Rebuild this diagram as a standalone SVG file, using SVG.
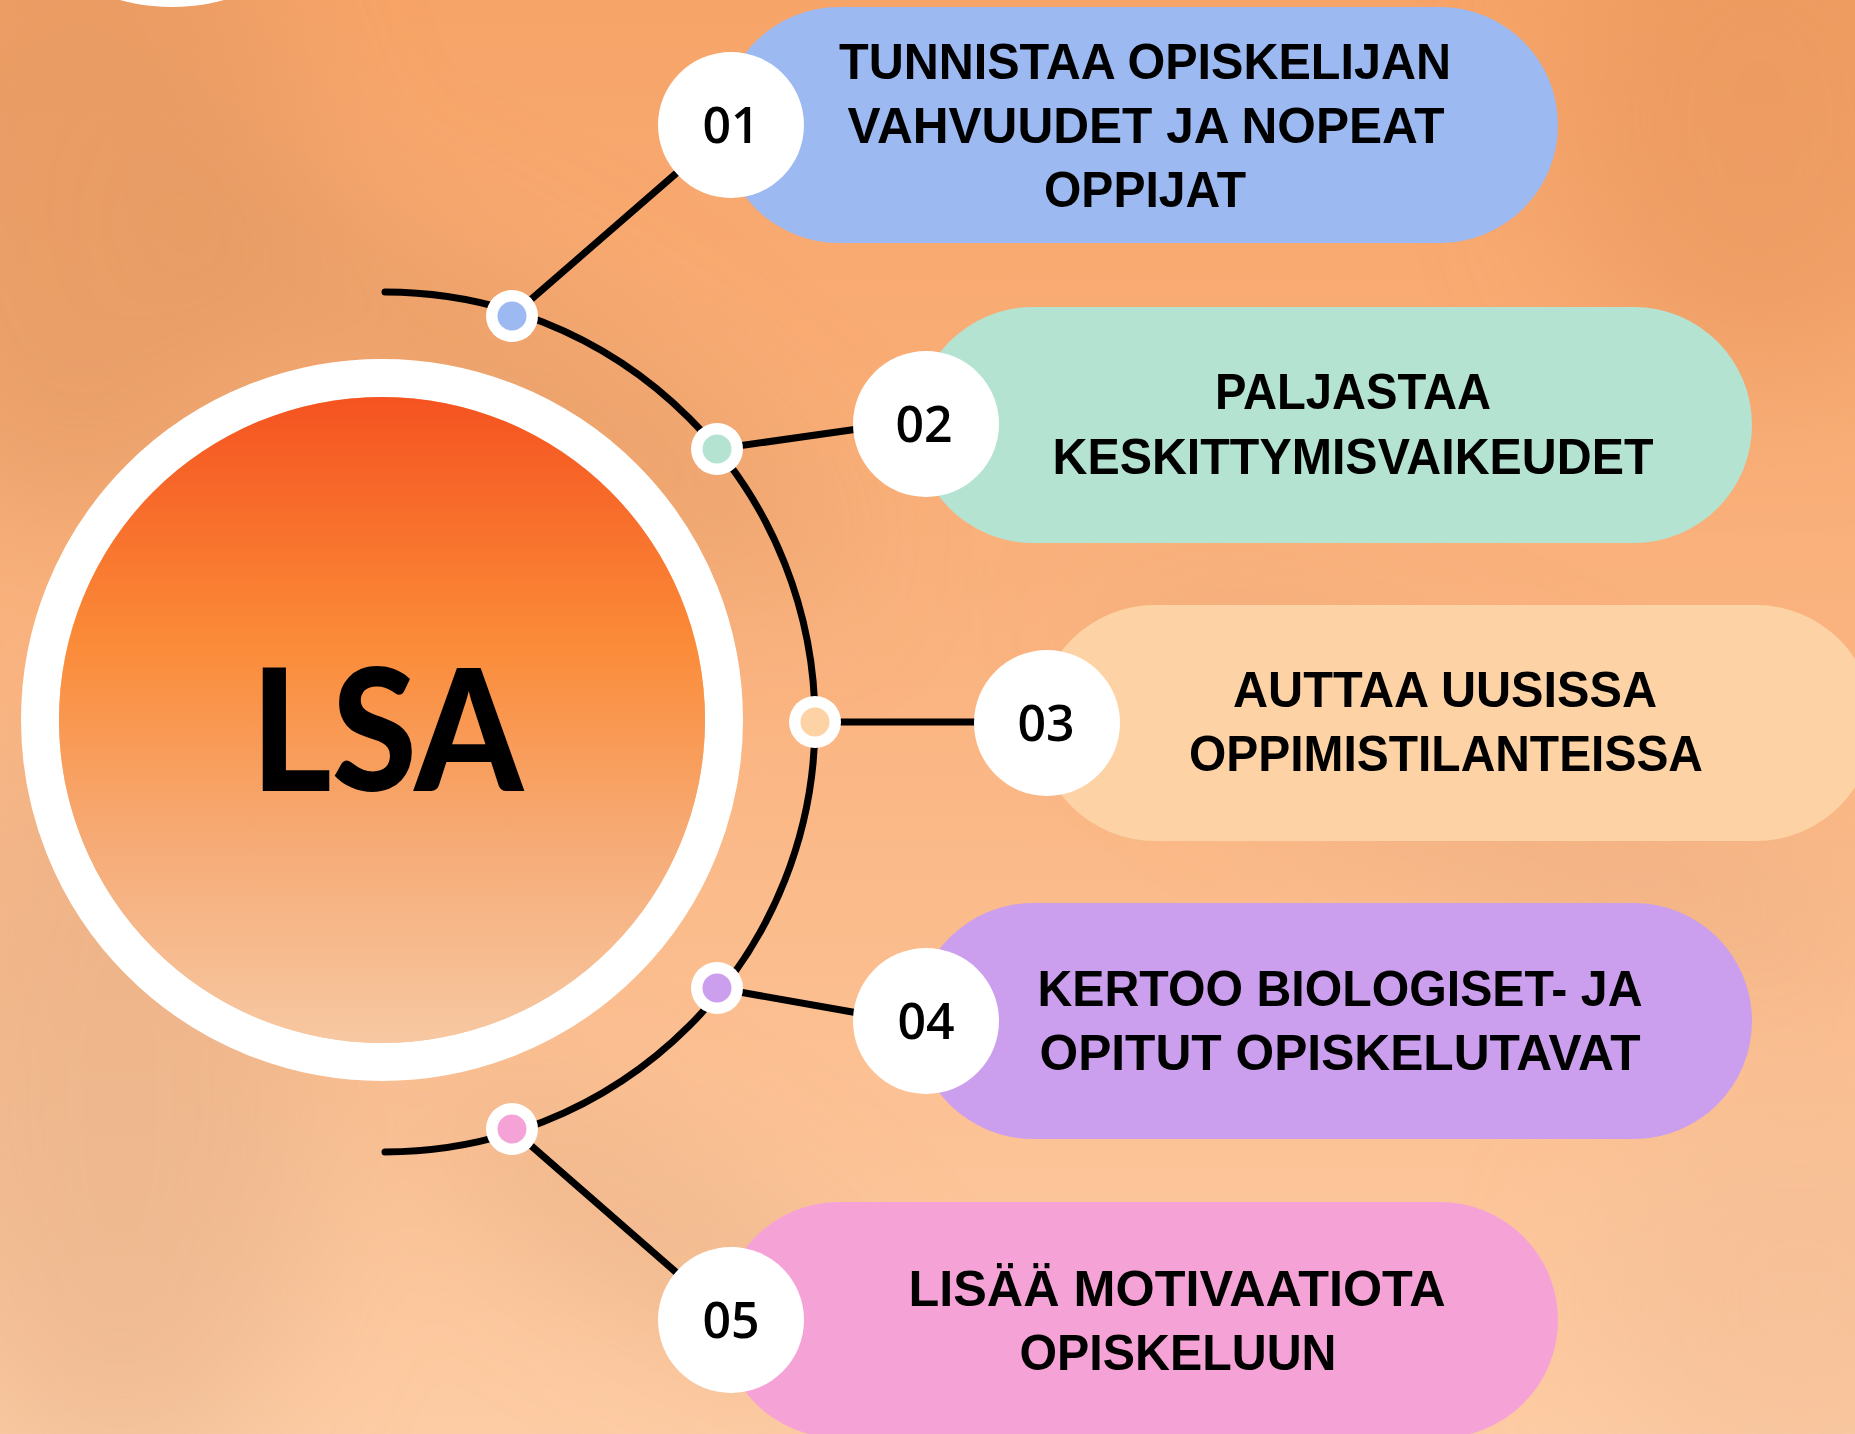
<svg xmlns="http://www.w3.org/2000/svg" width="1855" height="1434" viewBox="0 0 1855 1434">
<defs>
<style>
.pill-text{font-family:"Liberation Sans",Arial,sans-serif;font-weight:bold;font-size:50px;fill:#000;text-anchor:middle}
.num{font-family:"Open Sans","Liberation Sans",sans-serif;font-weight:600;font-size:50px;fill:#000;text-anchor:middle}
.numc{fill:#fff}
.link{stroke:#000;stroke-width:7;fill:none;stroke-linecap:round}
.dot{fill:#fff}
</style>
<linearGradient id="bg" x1="0" y1="0" x2="0" y2="1">
<stop offset="0" stop-color="#F7A468"/>
<stop offset="0.45" stop-color="#FAB37F"/>
<stop offset="1" stop-color="#FDCCA4"/>
</linearGradient>
<linearGradient id="core" x1="0" y1="0" x2="0" y2="1">
<stop offset="0" stop-color="#F55320"/>
<stop offset="0.38" stop-color="#FB8B38"/>
<stop offset="0.7" stop-color="#F6AC78"/>
<stop offset="1" stop-color="#F7C8A2"/>
</linearGradient>
<filter id="blur" x="-50%" y="-50%" width="200%" height="200%"><feGaussianBlur stdDeviation="70"/></filter>
</defs>
<g id="background">
<rect x="0" y="0" width="1855" height="1434" fill="url(#bg)"/>
<g filter="url(#blur)">
<ellipse cx="80" cy="200" rx="220" ry="320" fill="#DF955E" opacity="0.55"/>
<ellipse cx="1760" cy="120" rx="200" ry="260" fill="#E8945B" opacity="0.6"/>
<ellipse cx="500" cy="380" rx="380" ry="90" fill="#DB9560" opacity="0.45" transform="rotate(30 500 380)"/>
<ellipse cx="120" cy="1100" rx="200" ry="380" fill="#DFAA85" opacity="0.45"/>
<ellipse cx="650" cy="1230" rx="260" ry="70" fill="#DCA27A" opacity="0.4" transform="rotate(30 650 1230)"/>
<ellipse cx="1500" cy="800" rx="420" ry="80" fill="#DFA47C" opacity="0.35" transform="rotate(25 1500 800)"/>
<ellipse cx="1800" cy="1300" rx="200" ry="200" fill="#F0BA91" opacity="0.4"/>
</g>
<circle cx="172" cy="-190" r="197" fill="#fff"/>
</g>
<g id="node-lsa">
<circle cx="382" cy="720" r="342" fill="none" stroke="#fff" stroke-width="38"/>
<circle cx="382" cy="720" r="323" fill="url(#core)"/>
<text x="387" y="791" font-family="Lato,'Liberation Sans',sans-serif" font-weight="900" font-size="170" text-anchor="middle" textLength="272" lengthAdjust="spacingAndGlyphs" fill="#000">LSA</text>
</g>
<g id="connectors">
<path class="link" d="M 385 292 A 430 430 0 0 1 385 1152"/>
<line class="link" x1="512" y1="316" x2="680" y2="170"/>
<line class="link" x1="717" y1="449" x2="858" y2="429"/>
<line class="link" x1="815" y1="722" x2="980" y2="722"/>
<line class="link" x1="717" y1="988" x2="858" y2="1013"/>
<line class="link" x1="512" y1="1129" x2="678" y2="1274"/>
<circle class="dot" cx="512" cy="316" r="26"/><circle cx="512" cy="316" r="14.5" fill="#9CB9F2"/>
<circle class="dot" cx="717" cy="449" r="26"/><circle cx="717" cy="449" r="14.5" fill="#B4E3D2"/>
<circle class="dot" cx="815" cy="722" r="26"/><circle cx="815" cy="722" r="14.5" fill="#FDD3A5"/>
<circle class="dot" cx="717" cy="988" r="26"/><circle cx="717" cy="988" r="14.5" fill="#CB9FED"/>
<circle class="dot" cx="512" cy="1129" r="26"/><circle cx="512" cy="1129" r="14.5" fill="#F5A3D7"/>
</g>
<g id="node-01">
<rect x="721" y="7" width="837" height="236" rx="118" fill="#9CB9F2"/>
<circle class="numc" cx="731" cy="125" r="73"/>
<text class="num" x="731" y="143">01</text>
<text class="pill-text" x="1145" y="79" textLength="612" lengthAdjust="spacingAndGlyphs">TUNNISTAA OPISKELIJAN</text>
<text class="pill-text" x="1146" y="143" textLength="597" lengthAdjust="spacingAndGlyphs">VAHVUUDET JA NOPEAT</text>
<text class="pill-text" x="1145" y="207" textLength="202" lengthAdjust="spacingAndGlyphs">OPPIJAT</text>
</g>
<g id="node-02">
<rect x="915" y="307" width="837" height="236" rx="118" fill="#B4E3D2"/>
<circle class="numc" cx="926" cy="424" r="73"/>
<text class="num" x="924" y="442">02</text>
<text class="pill-text" x="1353" y="409" textLength="276" lengthAdjust="spacingAndGlyphs">PALJASTAA</text>
<text class="pill-text" x="1353" y="474" textLength="601" lengthAdjust="spacingAndGlyphs">KESKITTYMISVAIKEUDET</text>
</g>
<g id="node-03">
<rect x="1037" y="605" width="837" height="236" rx="118" fill="#FDD3A5"/>
<circle class="numc" cx="1047" cy="723" r="73"/>
<text class="num" x="1046" y="741">03</text>
<text class="pill-text" x="1445" y="707" textLength="424" lengthAdjust="spacingAndGlyphs">AUTTAA UUSISSA</text>
<text class="pill-text" x="1446" y="771" textLength="514" lengthAdjust="spacingAndGlyphs">OPPIMISTILANTEISSA</text>
</g>
<g id="node-04">
<rect x="915" y="903" width="837" height="236" rx="118" fill="#CB9FED"/>
<circle class="numc" cx="926" cy="1021" r="73"/>
<text class="num" x="926" y="1039">04</text>
<text class="pill-text" x="1340" y="1006" textLength="605" lengthAdjust="spacingAndGlyphs">KERTOO BIOLOGISET- JA</text>
<text class="pill-text" x="1340" y="1070" textLength="601" lengthAdjust="spacingAndGlyphs">OPITUT OPISKELUTAVAT</text>
</g>
<g id="node-05">
<rect x="721" y="1202" width="837" height="236" rx="118" fill="#F5A3D7"/>
<circle class="numc" cx="731" cy="1320" r="73"/>
<text class="num" x="731" y="1338">05</text>
<text class="pill-text" x="1177" y="1306" textLength="537" lengthAdjust="spacingAndGlyphs">LISÄÄ MOTIVAATIOTA</text>
<text class="pill-text" x="1178" y="1370" textLength="317" lengthAdjust="spacingAndGlyphs">OPISKELUUN</text>
</g>
</svg>
